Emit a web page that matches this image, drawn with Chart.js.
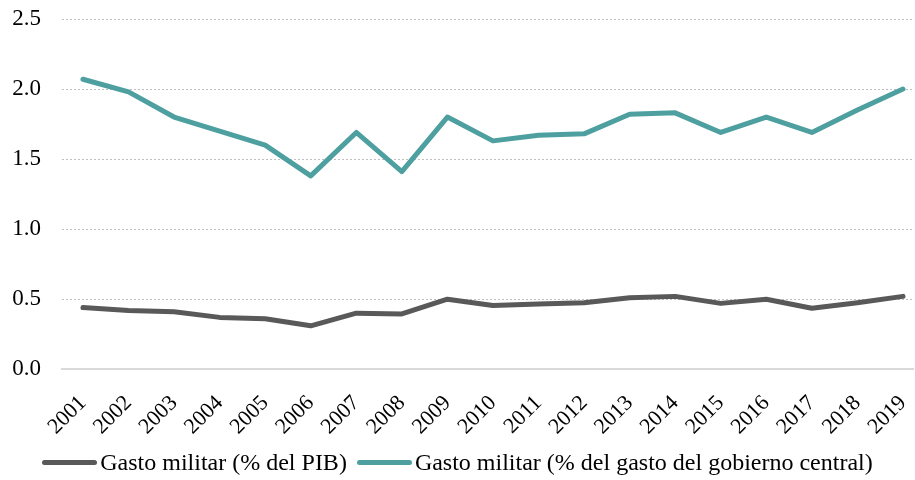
<!DOCTYPE html>
<html>
<head>
<meta charset="utf-8">
<script src="https://cdn.jsdelivr.net/npm/chart.js@4.4.1/dist/chart.umd.min.js"></script>
<style>
  html, body { margin: 0; padding: 0; background: #fff; }
  #wrap { position: relative; width: 915px; height: 480px; }
  #legend {
    position: absolute; left: 0; right: 0; top: 449px;
    display: flex; justify-content: center; align-items: center;
    font-family: "Liberation Serif", "Times New Roman", serif; font-size: 24px; color: #000;
  }
  .item { display: flex; align-items: center; margin: 0 5px; white-space: nowrap; }
  .swatch { width: 55px; height: 5px; border-radius: 3px; margin-right: 3px; }
</style>
</head>
<body>
<div id="wrap">
  <canvas id="chart"></canvas>
  <div id="legend"></div>
</div>
<script>
const years = [2001, 2002, 2003, 2004, 2005, 2006, 2007, 2008, 2009, 2010,
               2011, 2012, 2013, 2014, 2015, 2016, 2017, 2018, 2019];
const gastoPIB = [0.44, 0.42, 0.41, 0.37, 0.36, 0.31, 0.40, 0.395, 0.50, 0.455,
                  0.465, 0.475, 0.51, 0.52, 0.47, 0.50, 0.435, 0.475, 0.52];
const gastoGobierno = [2.07, 1.98, 1.80, 1.70, 1.60, 1.38, 1.69, 1.41, 1.80, 1.63,
                       1.67, 1.68, 1.82, 1.83, 1.69, 1.80, 1.69, 1.85, 2.00];
const seriesLabels = ['Gasto militar (% del PIB)', 'Gasto militar (% del gasto del gobierno central)'];
const yTicks = [0, 0.5, 1, 1.5, 2, 2.5];

const GRAY = '#595959';
const TEAL = '#4e9f9f';
const FAMILY = '"Liberation Serif", "Times New Roman", serif';

function toPoints(values) {
  return values.map((v, i) => ({ x: years[i], y: v }));
}

function lineDataset(label, values, color) {
  return {
    label: label,
    data: toPoints(values),
    borderColor: color,
    backgroundColor: color,
    borderWidth: 5,
    borderCapStyle: 'round',
    borderJoinStyle: 'round',
    pointRadius: 0,
    tension: 0,
  };
}

const chart = new Chart(document.getElementById('chart'), {
  type: 'line',
  data: {
    datasets: [
      lineDataset(seriesLabels[0], gastoPIB, GRAY),
      lineDataset(seriesLabels[1], gastoGobierno, TEAL),
    ]
  },
  options: {
    animation: false,
    responsive: true,
    maintainAspectRatio: false,
    layout: { padding: { left: 11, right: 2, top: 19, bottom: 19 } },
    plugins: { legend: { display: false }, tooltip: { enabled: false } },
    scales: {
      x: {
        type: 'linear',
        min: 2000.54,
        max: 2019.22,
        afterBuildTicks: (scale) => { scale.ticks = years.map(v => ({ value: v })); },
        // rotated labels would otherwise push the plot area to the right
        afterFit: (scale) => { scale.paddingLeft = 0; scale.paddingRight = 0; },
        ticks: {
          font: { family: FAMILY, size: 22 }, color: '#000',
          minRotation: 45, maxRotation: 45,
          padding: 21, autoSkip: false,
          callback: (v) => String(v),
        },
        grid: { display: false, drawTicks: false },
        border: { display: true, color: '#d9d9d9', width: 2 },
      },
      y: {
        min: 0,
        max: 2.5,
        afterBuildTicks: (scale) => { scale.ticks = yTicks.map(v => ({ value: v })); },
        afterFit: (scale) => { scale.paddingTop = 0; scale.paddingBottom = 0; scale.width = 51; },
        ticks: {
          font: { family: FAMILY, size: 23 }, color: '#000', padding: 21,
          callback: (v) => v.toFixed(1),
        },
        grid: {
          drawTicks: false,
          color: (ctx) => ctx.tick && ctx.tick.value === 0 ? 'rgba(0,0,0,0)' : '#bfbfbf',
          lineWidth: 1,
        },
        border: { display: false, dash: [2, 2] },
      }
    }
  }
});

// html legend, line swatch sits right against the text like the original
const legendEl = document.getElementById('legend');
chart.data.datasets.forEach(ds => {
  const item = document.createElement('div');
  item.className = 'item';
  const sw = document.createElement('span');
  sw.className = 'swatch';
  sw.style.background = ds.borderColor;
  const txt = document.createElement('span');
  txt.textContent = ds.label;
  item.appendChild(sw);
  item.appendChild(txt);
  legendEl.appendChild(item);
});
</script>
</body>
</html>
